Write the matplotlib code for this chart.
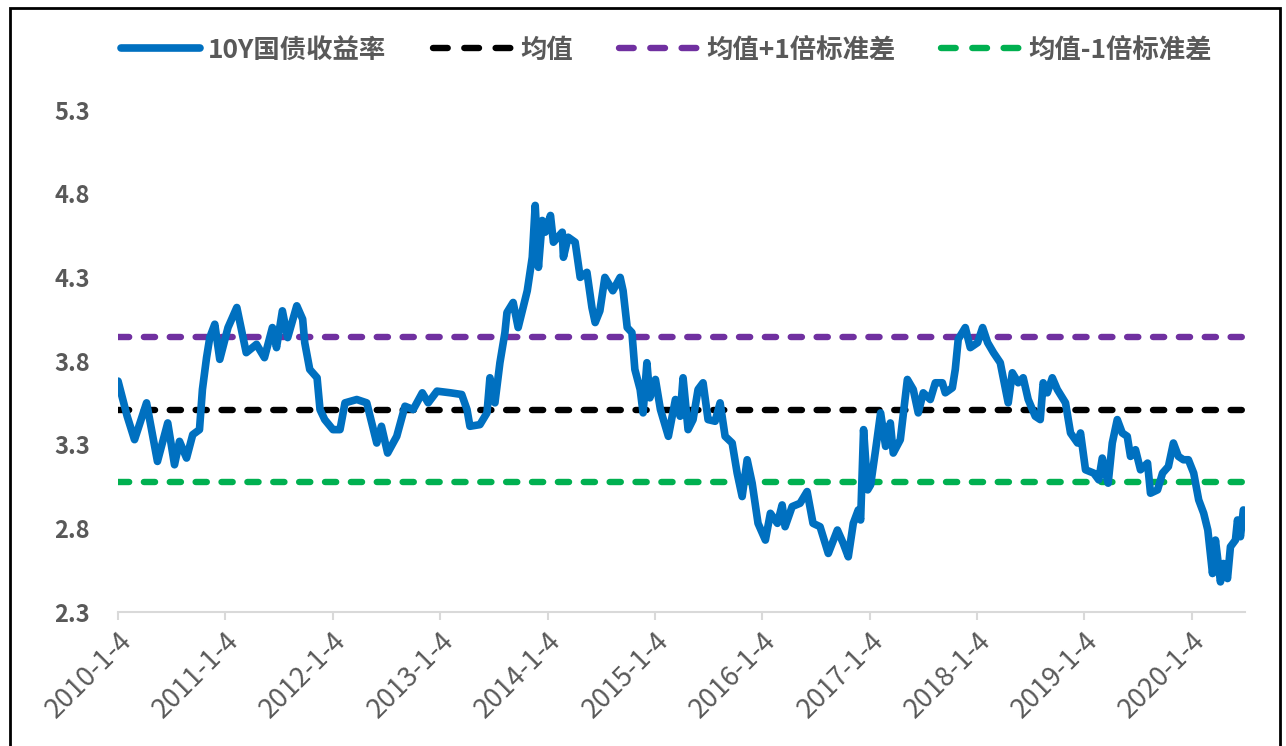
import matplotlib
matplotlib.use("Agg")
import matplotlib.pyplot as plt
from matplotlib.patches import Rectangle
import pandas as pd

plt.rcParams['font.family'] = ['Noto Sans CJK SC', 'DejaVu Sans']
plt.rcParams['axes.unicode_minus'] = False

# 10年期国债收益率（%）
dates = [
    '2010-01-04', '2010-02-04', '2010-03-01', '2010-04-11', '2010-05-18', '2010-06-22',
    '2010-07-15', '2010-08-01', '2010-08-25', '2010-09-15', '2010-10-08', '2010-10-18',
    '2010-11-01', '2010-11-12', '2010-11-29', '2010-12-16', '2011-01-13', '2011-02-12',
    '2011-03-16', '2011-04-20', '2011-05-17', '2011-06-13', '2011-06-27', '2011-07-17',
    '2011-08-04', '2011-09-04', '2011-09-24', '2011-10-01', '2011-10-18', '2011-11-12',
    '2011-11-22', '2011-12-08', '2012-01-05', '2012-01-29', '2012-02-15', '2012-03-26',
    '2012-04-29', '2012-05-16', '2012-06-02', '2012-06-18', '2012-07-09', '2012-08-09',
    '2012-09-06', '2012-10-04', '2012-11-04', '2012-11-24', '2012-12-24', '2013-02-08',
    '2013-03-18', '2013-04-05', '2013-04-15', '2013-05-19', '2013-06-12', '2013-06-22',
    '2013-07-09', '2013-07-26', '2013-08-12', '2013-08-19', '2013-09-09', '2013-09-26',
    '2013-10-27', '2013-11-13', '2013-11-23', '2013-12-04', '2013-12-17', '2013-12-27',
    '2014-01-14', '2014-01-24', '2014-02-23', '2014-02-27', '2014-03-15', '2014-04-08',
    '2014-04-25', '2014-05-18', '2014-06-04', '2014-06-15', '2014-07-01', '2014-07-18',
    '2014-08-14', '2014-09-08', '2014-09-18', '2014-10-02', '2014-10-18', '2014-10-28',
    '2014-11-15', '2014-11-25', '2014-12-08', '2014-12-18', '2015-01-06', '2015-01-23',
    '2015-02-19', '2015-03-15', '2015-03-31', '2015-04-10', '2015-04-27', '2015-05-14',
    '2015-05-31', '2015-06-17', '2015-07-04', '2015-07-28', '2015-08-14', '2015-08-31',
    '2015-09-24', '2015-10-11', '2015-10-28', '2015-11-14', '2015-12-01', '2015-12-21',
    '2016-01-15', '2016-02-01', '2016-02-25', '2016-03-12', '2016-03-22', '2016-04-15',
    '2016-05-12', '2016-06-05', '2016-06-25', '2016-07-19', '2016-08-16', '2016-09-16',
    '2016-10-06', '2016-10-23', '2016-11-09', '2016-11-26', '2016-12-04', '2016-12-14',
    '2016-12-28', '2017-01-07', '2017-01-24', '2017-02-10', '2017-02-27', '2017-03-15',
    '2017-03-25', '2017-04-18', '2017-05-12', '2017-06-01', '2017-06-18', '2017-07-05',
    '2017-07-29', '2017-08-15', '2017-09-08', '2017-09-18', '2017-10-12', '2017-10-22',
    '2017-11-01', '2017-11-25', '2017-12-12', '2018-01-06', '2018-01-23', '2018-02-09',
    '2018-03-01', '2018-03-24', '2018-04-03', '2018-04-20', '2018-05-04', '2018-05-24',
    '2018-06-10', '2018-06-27', '2018-07-21', '2018-08-07', '2018-08-17', '2018-08-31',
    '2018-09-17', '2018-10-04', '2018-11-01', '2018-11-18', '2018-12-12', '2018-12-22',
    '2019-01-08', '2019-02-05', '2019-02-22', '2019-03-06', '2019-03-26', '2019-04-09',
    '2019-04-26', '2019-05-13', '2019-05-30', '2019-06-10', '2019-06-27', '2019-07-14',
    '2019-08-07', '2019-08-17', '2019-09-10', '2019-09-27', '2019-10-17', '2019-11-03',
    '2019-11-20', '2019-12-07', '2019-12-24', '2020-01-11', '2020-01-28', '2020-02-14',
    '2020-02-28', '2020-03-15', '2020-03-25', '2020-04-11', '2020-04-21', '2020-05-05',
    '2020-05-15', '2020-06-01', '2020-06-08', '2020-06-18', '2020-06-28',
]
yields = [
    3.68, 3.47, 3.33, 3.55, 3.20, 3.43,
    3.18, 3.32, 3.22, 3.36, 3.39, 3.63,
    3.82, 3.94, 4.02, 3.81, 4.00, 4.12,
    3.85, 3.90, 3.82, 4.00, 3.88, 4.10,
    3.94, 4.13, 4.05, 3.91, 3.75, 3.70,
    3.51, 3.45, 3.39, 3.39, 3.55, 3.57,
    3.55, 3.43, 3.31, 3.41, 3.25, 3.35,
    3.53, 3.51, 3.61, 3.55, 3.62, 3.61,
    3.60, 3.51, 3.41, 3.42, 3.49, 3.70,
    3.55, 3.79, 3.97, 4.09, 4.15, 4.00,
    4.22, 4.42, 4.73, 4.36, 4.64, 4.57,
    4.67, 4.51, 4.57, 4.42, 4.54, 4.51,
    4.30, 4.33, 4.12, 4.03, 4.10, 4.30,
    4.22, 4.30, 4.22, 4.00, 3.97, 3.75,
    3.63, 3.49, 3.79, 3.58, 3.69, 3.51,
    3.35, 3.57, 3.47, 3.70, 3.39, 3.45,
    3.63, 3.67, 3.45, 3.44, 3.55, 3.35,
    3.31, 3.13, 2.99, 3.21, 3.07, 2.83,
    2.73, 2.89, 2.83, 2.94, 2.81, 2.93,
    2.95, 3.02, 2.83, 2.81, 2.65, 2.79,
    2.71, 2.63, 2.83, 2.91, 2.85, 3.39,
    3.03, 3.06, 3.27, 3.49, 3.29, 3.43,
    3.25, 3.33, 3.69, 3.63, 3.49, 3.61,
    3.57, 3.67, 3.67, 3.61, 3.64, 3.75,
    3.93, 4.00, 3.88, 3.91, 4.00, 3.91,
    3.85, 3.79, 3.70, 3.55, 3.73, 3.67,
    3.70, 3.57, 3.47, 3.45, 3.67, 3.61,
    3.70, 3.63, 3.55, 3.37, 3.31, 3.37,
    3.15, 3.13, 3.09, 3.22, 3.07, 3.31,
    3.45, 3.37, 3.35, 3.23, 3.27, 3.15,
    3.19, 3.01, 3.03, 3.13, 3.17, 3.31,
    3.23, 3.21, 3.21, 3.13, 2.97, 2.89,
    2.79, 2.53, 2.73, 2.48, 2.59, 2.50,
    2.69, 2.73, 2.85, 2.75, 2.91,
]

mean_val = 3.51
std_val = 0.435

tick_dates = ['2010-01-04', '2011-01-04', '2012-01-04', '2013-01-04', '2014-01-04', '2015-01-04',
              '2016-01-04', '2017-01-04', '2018-01-04', '2019-01-04', '2020-01-04']
tick_labels = ['2010-1-4', '2011-1-4', '2012-1-4', '2013-1-4', '2014-1-4', '2015-1-4',
               '2016-1-4', '2017-1-4', '2018-1-4', '2019-1-4', '2020-1-4']
y_ticks = [2.3, 2.8, 3.3, 3.8, 4.3, 4.8, 5.3]

x = pd.to_datetime(dates)
x_start = pd.Timestamp('2010-01-04')
x_end = pd.Timestamp('2020-07-03')

fig = plt.figure(figsize=(12.86, 7.46), dpi=100)
ax = fig.add_axes([0.0918, 0.1796, 0.8762, 0.6729])

ax.plot(x, yields, color='#0070C0', lw=5.5, solid_joinstyle='round', solid_capstyle='round',
        label='10Y国债收益率', zorder=3)

dash_kw = dict(lw=4.6, dashes=(1.75, 2.3), dash_capstyle='round')
ax.plot([x_start, x_end], [mean_val, mean_val], color='black', label='均值', zorder=2, **dash_kw)
ax.plot([x_start, x_end], [mean_val + std_val] * 2, color='#7030A0', label='均值+1倍标准差',
        zorder=2, **dash_kw)
ax.plot([x_start, x_end], [mean_val - std_val] * 2, color='#00B050', label='均值-1倍标准差',
        zorder=2, **dash_kw)

ax.set_xlim(x_start, x_end)
ax.set_ylim(2.3, 5.3)
ax.set_yticks(y_ticks)
ax.set_yticklabels([f'{v:.1f}' for v in y_ticks], fontsize=17, fontweight='bold', color='#595959')
ax.set_xticks(pd.to_datetime(tick_dates))
ax.set_xticklabels(tick_labels, rotation=45, ha='right', rotation_mode='anchor',
                   fontsize=19.5, color='#595959')

for side in ['left', 'right', 'top']:
    ax.spines[side].set_visible(False)
ax.spines['bottom'].set_color('#D9D9D9')
ax.spines['bottom'].set_linewidth(1.5)
ax.tick_params(axis='y', length=0, pad=20)
ax.tick_params(axis='x', length=6, width=1.5, color='#D9D9D9', pad=5)

leg = ax.legend(loc='center left', bbox_to_anchor=(0.084, 0.933), bbox_transform=fig.transFigure,
                ncol=4, frameon=False, fontsize=19, borderpad=0, handlelength=3.0,
                handletextpad=0.3, columnspacing=1.75)
for t in leg.get_texts():
    t.set_color('#595959')
    t.set_fontweight('bold')
# 图例里的虚线样例画成三段整虚线
for h in leg.legend_handles[1:]:
    h.set_dashes((2.3, 2.6))

# 外框
fig.patches.append(Rectangle((0.008, -0.01), 0.987, 0.999, transform=fig.transFigure,
                             fill=False, edgecolor='black', lw=2.0))

fig.savefig('out.png', dpi=100)
